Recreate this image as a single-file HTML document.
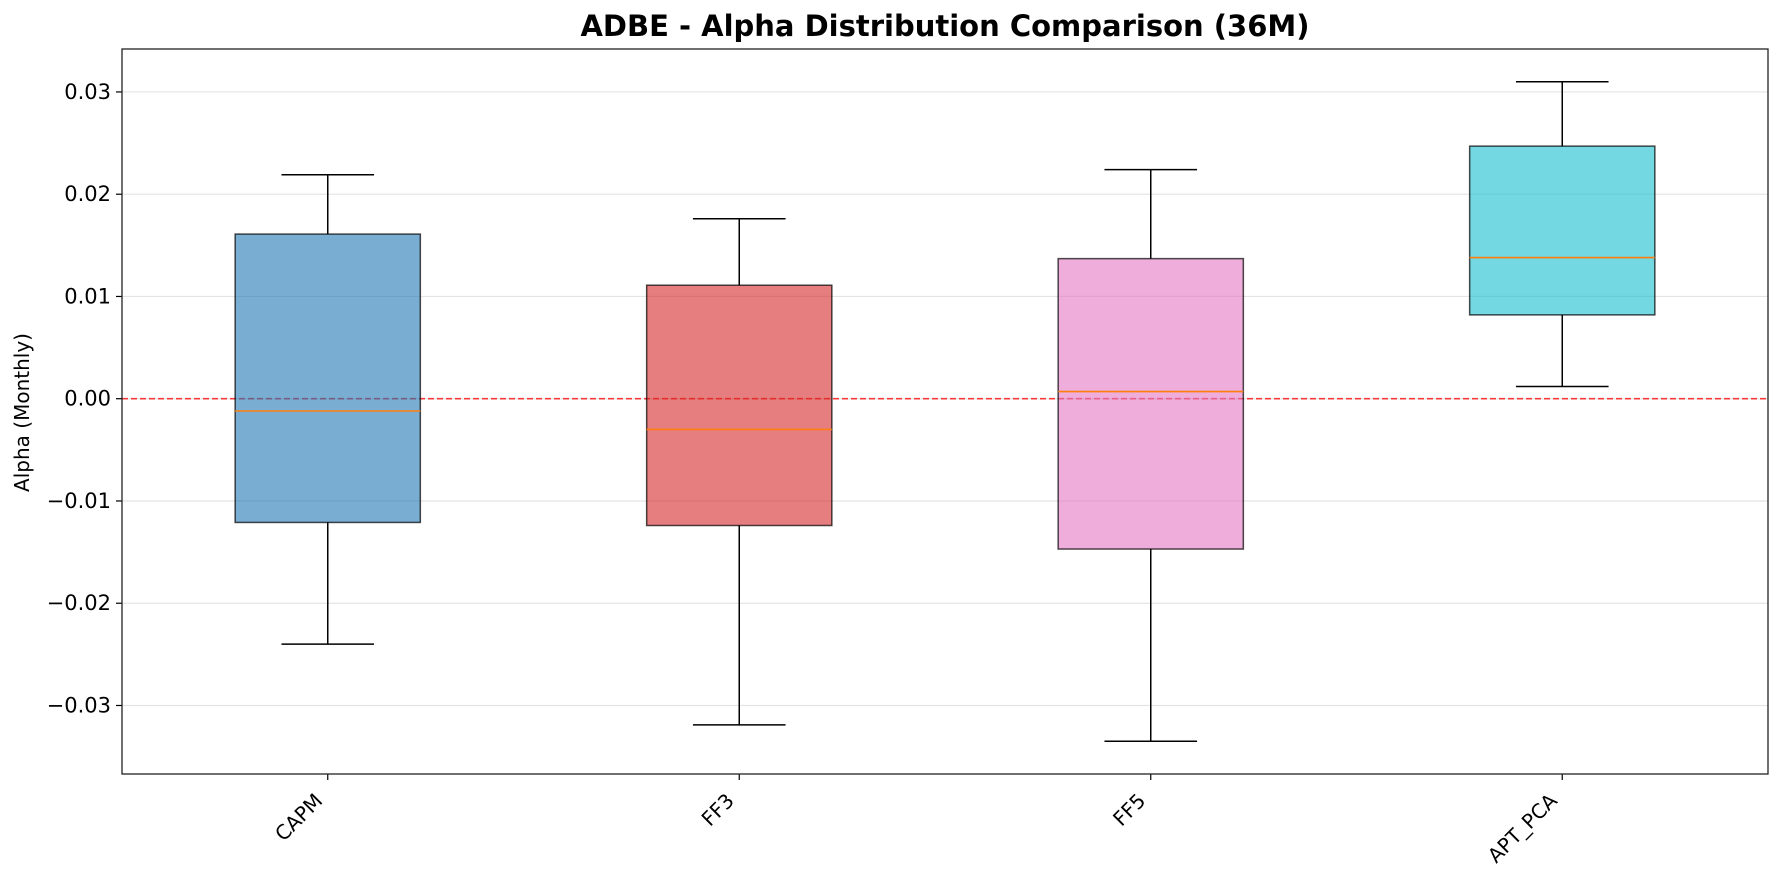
<!DOCTYPE html>
<html><head><meta charset="utf-8"><style>body{margin:0;background:#fff}svg{display:block;font-family:"DejaVu Sans","Liberation Sans",sans-serif}</style></head>
<body>
<svg id="chart" width="1783" height="884" xmlns="http://www.w3.org/2000/svg"></svg>
<script>
const categories=["CAPM","FF3","FF5","APT_PCA"];
const whiskerHigh=[0.0219,0.0176,0.0224,0.0310];
const q3Values=[0.0161,0.0111,0.0137,0.0247];
const medians=[-0.0012,-0.0030,0.0007,0.0138];
const q1Values=[-0.0121,-0.0124,-0.0147,0.0082];
const whiskerLow=[-0.0240,-0.0319,-0.0335,0.0012];
const yTicks=[-0.03,-0.02,-0.01,0.00,0.01,0.02,0.03];
const yTickLabels=["\u22120.03","\u22120.02","\u22120.01","0.00","0.01","0.02","0.03"];
const colors=["#1f77b4","#d62728","#e377c2","#17becf"];

const L=122,R=1768,T=49,B=774,yMin=-0.0367,yMax=0.0342;
const NS="http://www.w3.org/2000/svg";
const svg=document.getElementById("chart");
const y=v=>B-(v-yMin)/(yMax-yMin)*(B-T);
const x=i=>L+(i+0.5)/categories.length*(R-L);
const unit=(R-L)/categories.length;
function mk(tag,attrs,parent){const e=document.createElementNS(NS,tag);for(const k in attrs)e.setAttribute(k,attrs[k]);(parent||svg).appendChild(e);return e;}

const title=mk("text",{x:(L+R)/2,y:36,"text-anchor":"middle","font-size":29,"font-weight":"bold"});
title.textContent="ADBE - Alpha Distribution Comparison (36M)";



yTicks.forEach((t,i)=>{
  const g=mk("line",{x1:L,x2:R,y1:y(t),y2:y(t),stroke:"#e4e4e4","stroke-width":1.2});
  
  
  mk("line",{x1:L-6,x2:L,y1:y(t),y2:y(t),stroke:"#000","stroke-width":1.2});
  const lb=mk("text",{x:L-11,y:y(t)+7,"text-anchor":"end","font-size":21});
  lb.textContent=yTickLabels[i];
  
  
});
const yt=mk("text",{transform:`translate(29,${(T+B)/2+1}) rotate(-90)`,"text-anchor":"middle","font-size":20});
yt.textContent="Alpha (Monthly)";



const zl=mk("line",{x1:L,x2:R,y1:y(0),y2:y(0),stroke:"#ff0000","stroke-opacity":0.75,"stroke-width":1.6,"stroke-dasharray":"6,3"});



categories.forEach((c,i)=>{
  const cx=x(i),bw=0.45*unit,cw=0.225*unit;
  const g=mk("g",{});
  
  
  mk("line",{x1:cx,x2:cx,y1:y(whiskerHigh[i]),y2:y(q3Values[i]),stroke:"#000","stroke-width":1.5},g);
  mk("line",{x1:cx,x2:cx,y1:y(q1Values[i]),y2:y(whiskerLow[i]),stroke:"#000","stroke-width":1.5},g);
  mk("line",{x1:cx-cw/2,x2:cx+cw/2,y1:y(whiskerHigh[i]),y2:y(whiskerHigh[i]),stroke:"#000","stroke-width":1.5},g);
  mk("line",{x1:cx-cw/2,x2:cx+cw/2,y1:y(whiskerLow[i]),y2:y(whiskerLow[i]),stroke:"#000","stroke-width":1.5},g);
  mk("rect",{x:cx-bw/2,y:y(q3Values[i]),width:bw,height:y(q1Values[i])-y(q3Values[i]),fill:colors[i],"fill-opacity":0.6,stroke:"#000","stroke-opacity":0.7,"stroke-width":1.5},g);
  mk("line",{x1:cx-bw/2,x2:cx+bw/2,y1:y(medians[i]),y2:y(medians[i]),stroke:"#ff7f0e","stroke-width":1.6},g);
  mk("line",{x1:cx,x2:cx,y1:B,y2:B+6,stroke:"#000","stroke-width":1.2});
  const lb=mk("text",{transform:`translate(${cx-4},${B+28}) rotate(-45)`,"text-anchor":"end","font-size":20});
  lb.textContent=c;
  
  
});
const fr=mk("rect",{x:L,y:T,width:R-L,height:B-T,fill:"none",stroke:"#222","stroke-width":1.3});


</script>
</body></html>
